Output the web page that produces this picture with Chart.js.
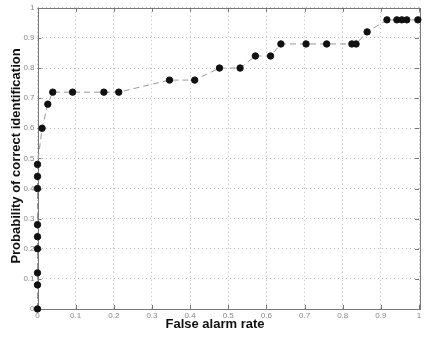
<!DOCTYPE html>
<html>
<head>
<meta charset="utf-8">
<script src="https://cdn.jsdelivr.net/npm/chart.js@4/dist/chart.umd.min.js"></script>
<style>
  html, body { margin: 0; padding: 0; background: #fff; }
  #wrap { width: 425px; height: 337px; }
</style>
</head>
<body>
<div id="wrap"><canvas id="roc"></canvas></div>
<script>
// false alarm rate / probability of correct identification
const falseAlarm = [0, 0, 0, 0, 0, 0, 0, 0, 0, 0.012, 0.027, 0.04, 0.092, 0.174, 0.213,
  0.346, 0.412, 0.477, 0.531, 0.571, 0.611, 0.638, 0.704, 0.758, 0.824, 0.835, 0.864,
  0.916, 0.942, 0.955, 0.968, 0.997];
const correctId = [0, 0.08, 0.12, 0.2, 0.24, 0.28, 0.4, 0.44, 0.48, 0.6, 0.68, 0.72, 0.72, 0.72, 0.72,
  0.76, 0.76, 0.8, 0.8, 0.84, 0.84, 0.88, 0.88, 0.88, 0.88, 0.88, 0.92,
  0.96, 0.96, 0.96, 0.96, 0.96];
const tickValues = [0, 0.1, 0.2, 0.3, 0.4, 0.5, 0.6, 0.7, 0.8, 0.9, 1];
const xTitle = 'False alarm rate';
const yTitle = 'Probability of correct identification';

const points = falseAlarm.map((x, i) => ({x: x, y: correctId[i]}));

const fmt = v => String(Math.round(v * 10) / 10);

// box round the plot and small inward ticks, matlab style
const boxPlugin = {
  id: 'box',
  beforeDatasetsDraw(chart) {
    const {ctx, chartArea: a, scales} = chart;
    ctx.save();
    ctx.strokeStyle = '#777';
    ctx.lineWidth = 1;
    ctx.beginPath();
    tickValues.forEach(v => {
      const px = Math.round(scales.x.getPixelForValue(v)) + 0.5;
      const py = Math.round(scales.y.getPixelForValue(v)) + 0.5;
      ctx.moveTo(px, a.bottom); ctx.lineTo(px, a.bottom - 4);
      ctx.moveTo(px, a.top); ctx.lineTo(px, a.top + 4);
      ctx.moveTo(a.left, py); ctx.lineTo(a.left + 4, py);
      ctx.moveTo(a.right, py); ctx.lineTo(a.right - 4, py);
    });
    ctx.stroke();
    ctx.strokeRect(Math.round(a.left) + 0.5, Math.round(a.top) + 0.5,
      Math.round(a.right - a.left), Math.round(a.bottom - a.top));
    ctx.restore();
  },
  afterDraw(chart) {
    const {ctx} = chart;
    ctx.save();
    ctx.fillStyle = '#111';
    ctx.font = 'bold 13px "Liberation Sans", Arial, sans-serif';
    ctx.textAlign = 'center';
    ctx.textBaseline = 'middle';
    ctx.fillText(xTitle, 215, 324);
    ctx.translate(16, 156);
    ctx.rotate(-Math.PI / 2);
    ctx.fillText(yTitle, 0, 0);
    ctx.restore();
  }
};

const tickFont = {family: '"Liberation Sans", Arial, sans-serif', size: 8};

new Chart('roc', {
  type: 'scatter',
  data: {
    datasets: [{
      data: points,
      showLine: true,
      borderColor: '#999',
      borderWidth: 1,
      borderDash: [6, 4],
      pointBackgroundColor: '#111',
      pointBorderColor: '#111',
      pointRadius: 3.2,
      pointHoverRadius: 3.2,
      clip: false
    }]
  },
  options: {
    responsive: true,
    maintainAspectRatio: false,
    animation: false,
    layout: {padding: {top: 6, right: 6, left: 0, bottom: 0}},
    plugins: {legend: {display: false}, tooltip: {enabled: false}},
    scales: {
      x: {
        type: 'linear', min: 0, max: 1,
        afterFit: s => { s.height = 28; },
        afterBuildTicks: s => { s.ticks = tickValues.map(v => ({value: v})); },
        ticks: {callback: fmt, color: '#888', font: tickFont, padding: 2, maxRotation: 0},
        grid: {color: '#bbb', lineWidth: 1, drawTicks: false},
        border: {display: false, dash: [1, 3]}
      },
      y: {
        type: 'linear', min: 0, max: 1,
        afterFit: s => { s.width = 37.5; },
        afterBuildTicks: s => { s.ticks = tickValues.map(v => ({value: v})); },
        ticks: {callback: fmt, color: '#888', font: tickFont, padding: 3},
        grid: {color: '#bbb', lineWidth: 1, drawTicks: false},
        border: {display: false, dash: [1, 3]}
      }
    }
  },
  plugins: [boxPlugin]
});
</script>
</body>
</html>
